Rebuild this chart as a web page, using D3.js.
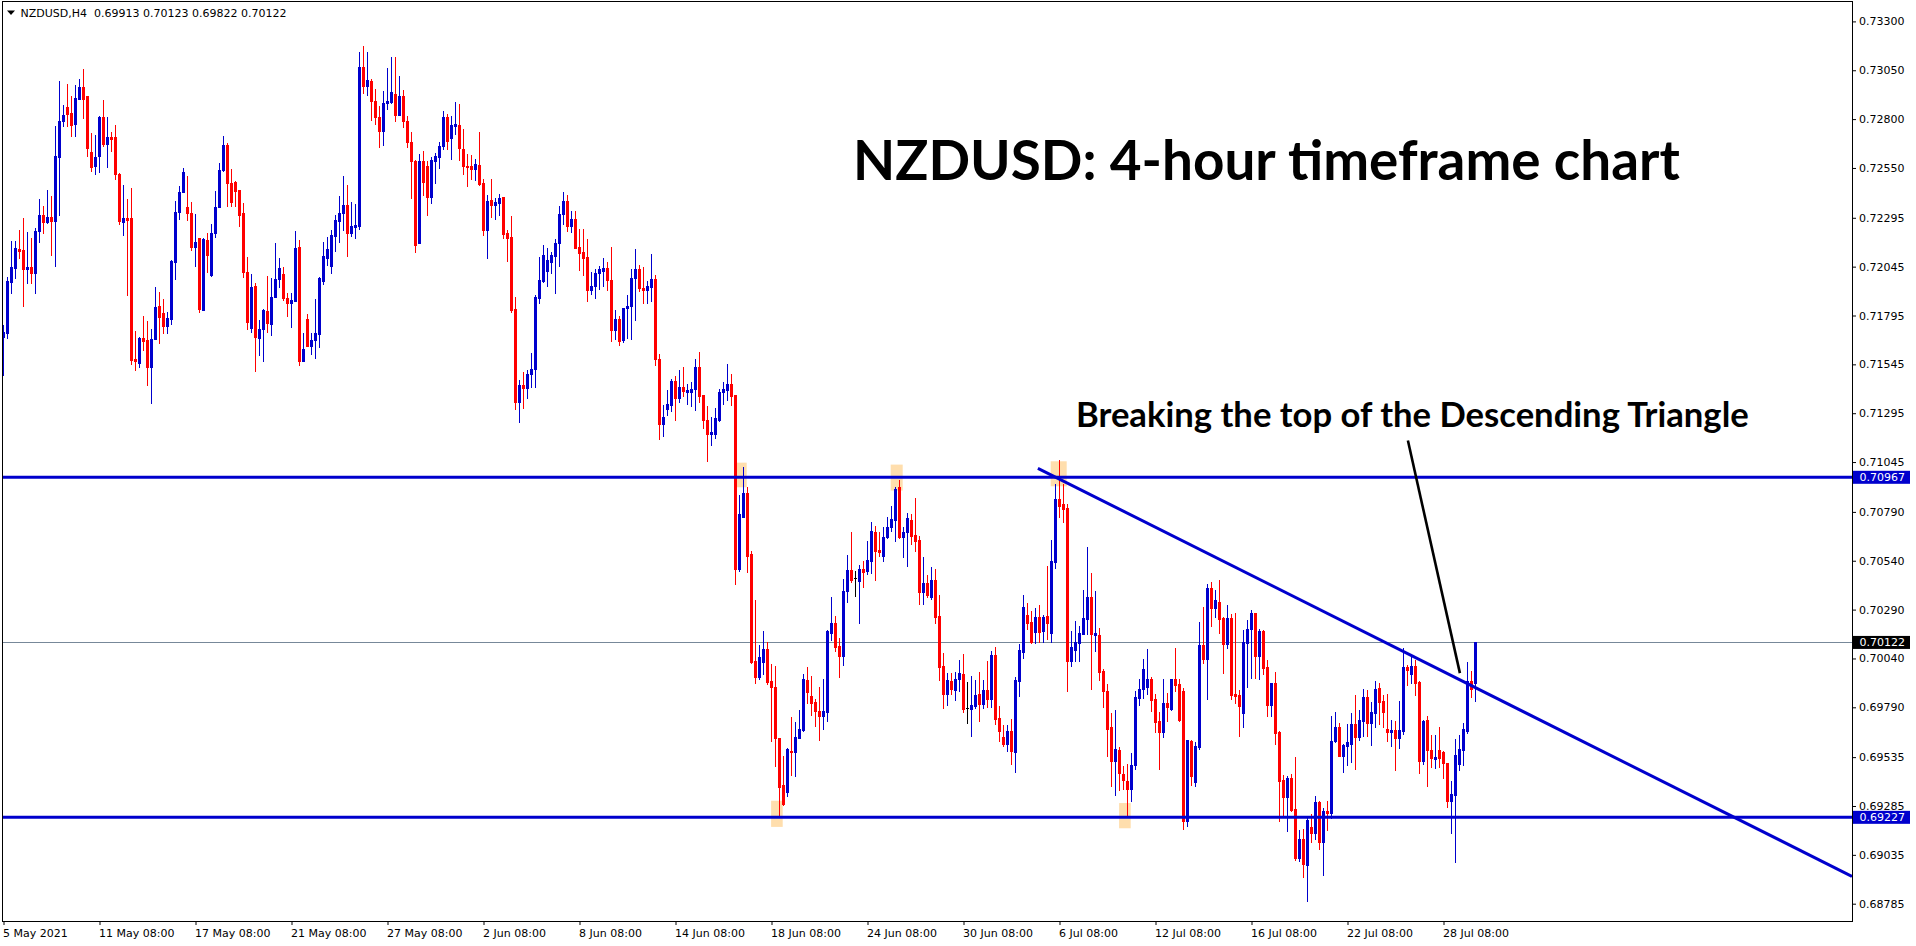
<!DOCTYPE html>
<html><head><meta charset="utf-8">
<script src="https://cdn.jsdelivr.net/npm/d3@7"></script>
<style>
html,body{margin:0;padding:0;background:#fff;overflow:hidden}
svg{display:block}
</style></head><body>
<svg id="chart" width="1916" height="946"></svg>
<script>
// ---------------- DATA ----------------
const symbolLabel = "NZDUSD,H4";
const headerValues = ["0.69913", "0.70123", "0.69822", "0.70122"];
const titleText = "NZDUSD: 4-hour timeframe chart";
const annotationText = "Breaking the top of the Descending Triangle";

// H4 candles, prices in points (1 point = 0.00001)
const opens = [
71686,71706,71968,72040,72136,72131,72031,72045,72011,72225,
72310,72276,72298,72281,72604,72789,72862,72832,72777,72905,
72965,72917,72632,72558,72609,72809,72674,72707,72707,72519,
72276,72293,72293,71571,71553,71682,71669,71532,71677,71843,
71806,71741,71777,72071,72324,72425,72349,72322,72148,72190,
71823,72182,72002,72219,72349,72538,72666,72472,72476,72438,
72319,72019,71729,71948,71682,71724,71818,71754,71891,71982,
72007,71886,71857,71869,72144,71563,71775,71640,71672,71699,
71973,72088,72050,72204,72281,72319,72361,72216,72250,72254,
73068,72968,72997,72895,72811,72737,72883,72886,72931,72823,
72917,72792,72683,72587,72165,72587,72561,72399,72587,72604,
72661,72809,72703,72763,72772,72648,72561,72558,72546,72566,
72472,72233,72387,72361,72373,72399,72216,72195,71826,71352,
71438,71424,71498,71523,71886,71973,72024,72071,72100,72165,
72313,72382,72254,72289,72144,72122,72093,71925,71946,72014,
72024,72040,71976,71720,71779,71669,71831,71842,71986,72031,
71935,71924,71942,71980,71571,71238,71316,71336,71460,71372,
71431,71405,71405,71420,71531,71387,71261,71187,71187,71261,
71405,71416,71447,71387,70500,70766,70888,70573,70029,69945,
70022,70089,69927,69894,69634,69390,69357,69568,69561,69634,
69674,69932,69849,69816,69770,69745,69767,70172,70223,70104,
70052,70383,70494,70451,70434,70497,70489,70540,70689,70596,
70565,70660,70711,70750,70916,70663,70688,70750,70673,70647,
70382,70425,70352,70441,70258,70001,69859,69924,69881,69936,
69958,69784,69782,69799,69856,69808,69878,69834,70058,69736,
69637,69600,69668,69560,69924,70075,70263,70227,70177,70252,
70181,70258,70172,70536,70856,70830,70808,70027,70083,70121,
70167,70244,70355,70160,70160,69976,69876,69688,69517,69574,
69448,69415,69372,69497,69838,69885,69895,69936,69830,69719,
69664,69813,69779,69936,69907,69876,69209,69617,69406,69587,
70109,70035,70398,70300,70330,70249,70112,70246,69856,69851,
69762,70121,70189,70271,70052,70181,69996,69804,69912,69663,
69420,69329,69428,69271,69021,69115,68983,69175,69149,69303,
69099,69261,69248,69616,69688,69539,69593,69602,69705,69636,
69718,69842,69710,69761,69889,69821,69681,69664,69672,69633,
69671,69995,69961,70000,69918,69513,69724,69573,69525,69573,
69561,69505,69308,69342,69501,69573,69667,69927,69913];
const highs = [
71746,71994,72177,72177,72233,72293,72221,72194,72245,72390,
72353,72438,72408,72763,72997,72874,72982,72917,72977,73006,
73054,72920,72729,72720,72815,72900,72811,72732,72772,72524,
72464,72390,72447,71715,71686,71792,71768,71724,71942,71917,
71879,71814,72079,72382,72459,72549,72510,72378,72315,72190,
72190,72216,72264,72430,72575,72712,72678,72544,72481,72438,
72370,72096,72007,71963,71771,71826,71997,71985,72165,72088,
72045,71908,71912,72225,72182,71708,71802,71703,71879,71994,
72170,72199,72233,72310,72409,72507,72464,72375,72366,73144,
73173,73144,73006,72955,72866,72946,73059,73117,73117,73020,
72951,72818,72734,72592,72621,72638,72587,72604,72626,72683,
72840,72826,72814,72886,72879,72749,72621,72618,72597,72732,
72493,72413,72495,72396,72418,72399,72233,72305,71888,71463,
71506,71515,71604,71900,72093,72156,72142,72122,72187,72353,
72426,72413,72330,72330,72238,72238,72187,72016,72033,72050,
72088,72071,72144,71823,71793,71835,71902,72035,72135,72053,
72042,71969,72108,72002,71598,71338,71416,71469,71487,71516,
71531,71447,71454,71571,71609,71387,71332,71276,71321,71420,
71454,71549,71498,71387,70877,71021,70915,70588,70340,70111,
70182,70122,70011,70000,69634,69541,69583,69738,69716,69778,
69960,69994,69951,69834,69893,69936,70184,70357,70258,70143,
70449,70571,70689,70488,70519,70540,70642,70736,70719,70689,
70711,70766,70822,70916,70954,70714,70783,70779,70861,70668,
70560,70468,70509,70500,70365,70066,69964,69964,69970,70032,
70064,69919,69950,69928,69970,69928,70027,70078,70099,69796,
69698,69698,69731,69945,70112,70365,70326,70284,70297,70314,
70263,70514,70648,70933,71053,70933,70830,70181,70232,70206,
70391,70612,70477,70386,70194,69988,69907,69762,69775,69586,
69488,69500,69557,69873,69933,70035,70090,69947,69859,69765,
69933,69864,69936,70095,69933,69890,69622,69625,69613,70229,
70304,70420,70429,70391,70442,70253,70314,70270,70275,69881,
70184,70237,70288,70275,70189,70184,70032,69916,69972,69668,
69445,69437,69451,69534,69163,69166,69226,69243,69334,69313,
69277,69313,69744,69766,69710,69602,69706,69761,69855,69775,
69884,69881,69816,69924,69915,69855,69859,69724,69722,69821,
70095,70009,70052,70030,69923,69727,69744,69650,69650,69688,
69568,69505,69411,69629,69650,69710,70023,69978,70123];
const lows = [
71489,71682,71908,71985,72091,71845,71963,71963,71912,72173,
72216,72267,72105,72050,72310,72763,72767,72712,72715,72905,
72806,72609,72536,72519,72527,72661,72553,72635,72493,72262,
72207,71900,71549,71515,71532,71617,71441,71349,71677,71652,
71703,71706,71754,71980,72288,72425,72284,72130,72050,71814,
71823,72019,71997,72199,72349,72532,72353,72353,72353,72254,
71994,71724,71713,71511,71595,71563,71712,71694,71891,71942,
71874,71792,71737,71869,71544,71561,71638,71600,71578,71634,
71956,72053,72014,72127,72173,72233,72101,72204,72190,72238,
72934,72922,72794,72777,72655,72669,72854,72883,72789,72819,
72758,72657,72395,72122,72165,72413,72310,72373,72472,72549,
72649,72649,72597,72725,72592,72520,72460,72495,72486,72464,
72207,72088,72301,72289,72310,72190,72074,71814,71318,71250,
71322,71373,71429,71429,71860,71968,71946,72014,71912,72048,
72262,72228,72224,72139,72028,72002,71870,71905,71886,71929,
71946,71925,71665,71677,71643,71660,71680,71676,71771,71920,
71860,71860,71871,71542,71161,71176,71287,71305,71258,71354,
71383,71343,71332,71310,71354,71221,71050,71132,71170,71254,
71343,71365,71336,70422,70489,70766,70484,70018,69916,69934,
69963,69911,69616,69490,69230,69290,69335,69446,69441,69634,
69667,69812,69750,69696,69622,69680,69719,70135,70078,69945,
70006,70329,70432,70360,70223,70406,70472,70475,70442,70565,
70540,70656,70694,70639,70654,70557,70514,70625,70588,70321,
70321,70357,70343,70223,69929,69787,69801,69856,69827,69876,
69767,69710,69645,69784,69722,69784,69791,69791,69705,69620,
69591,69565,69500,69457,69847,70041,70189,70121,70121,70126,
70126,70138,70126,70501,70762,70736,69876,70001,70027,70027,
70164,70164,69885,70078,69929,69793,69543,69386,69343,69365,
69372,69227,69309,69474,69804,69838,69856,69770,69664,69474,
69637,69719,69774,69873,69719,69168,69181,69394,69386,69577,
70018,69830,70206,70253,70169,69964,70092,69835,69813,69645,
69688,69895,69941,69941,69936,69958,69748,69745,69603,69206,
69240,69155,69257,69009,69001,68920,68800,69099,69116,69063,
68932,69163,69226,69612,69539,69458,69496,69510,69474,69621,
69641,69641,69595,69689,69706,69689,69616,69590,69470,69582,
69655,69906,69915,69852,69453,69501,69388,69484,69479,69484,
69428,69278,69149,69000,69470,69493,69659,69843,69822];
const closes = [
71712,71971,72045,72139,72127,72031,72045,72011,72228,72310,
72276,72298,72281,72609,72792,72823,72828,72772,72909,72965,
72905,72652,72553,72606,72811,72674,72707,72698,72519,72279,
72293,72284,71566,71563,71682,71665,71532,71677,71836,71788,
71742,71780,72074,72324,72425,72529,72319,72148,72170,71828,
72187,72105,72216,72349,72541,72666,72472,72378,72430,72310,
72019,71763,71942,71686,71724,71823,71758,71891,71982,72036,
71883,71857,71874,72142,71563,71626,71640,71672,71703,71985,
72101,72136,72207,72284,72322,72361,72216,72254,72259,73066,
72968,73002,72891,72809,72737,72883,72891,72938,72823,72917,
72789,72681,72584,72156,72587,72476,72399,72592,72609,72664,
72809,72686,72772,72777,72652,72558,72553,72546,72572,72469,
72233,72382,72361,72375,72396,72212,72190,71823,71352,71438,
71426,71498,71523,71891,71976,72105,72079,72105,72168,72315,
72382,72254,72289,72142,72117,72091,71925,71946,72014,72031,
72040,71976,71720,71776,71665,71831,71842,71986,72031,71935,
71926,71946,71980,71571,71238,71276,71343,71460,71372,71431,
71409,71414,71420,71531,71383,71258,71187,71198,71272,71405,
71420,71447,71383,70500,70777,70888,70566,70022,69945,70049,
70089,69918,69894,69634,69383,69297,69579,69561,69639,69678,
69934,69867,69812,69772,69745,69770,70181,70223,70100,70052,
70386,70494,70441,70451,70497,70483,70543,70694,70591,70583,
70663,70714,70754,70907,70663,70688,70757,70668,70639,70382,
70425,70365,70441,70253,69998,69859,69929,69885,69936,69964,
69782,69784,69801,69852,69808,69878,69834,70058,69731,69668,
69603,69668,69565,69929,70083,70304,70223,70126,70252,70177,
70252,70223,70540,70856,70822,70805,70027,70099,70126,70169,
70246,70355,70164,70169,69972,69876,69681,69517,69577,69454,
69420,69372,69497,69842,69885,69984,69933,69827,69716,69664,
69813,69791,69936,69902,69724,69209,69622,69440,69591,70109,
70035,70403,70300,70340,70241,70112,70246,69852,69847,69799,
70126,70189,70271,70052,70181,69993,69804,69912,69659,69415,
69329,69428,69266,69021,69115,68987,69214,69149,69303,69099,
69257,69248,69616,69688,69539,69595,69612,69705,69636,69724,
69842,69710,69765,69884,69818,69766,69664,69672,69633,69676,
69995,69980,70000,69915,69517,69722,69570,69530,69534,69530,
69505,69308,69347,69544,69578,69681,69927,69886,70122];

const priceTicks = [0.73300,0.73050,0.72800,0.72550,0.72295,0.72045,0.71795,0.71545,0.71295,
  0.71045,0.70790,0.70540,0.70290,0.70040,0.69790,0.69535,0.69285,0.69035,0.68785];
const timeTickLabels = ["5 May 2021","11 May 08:00","17 May 08:00","21 May 08:00","27 May 08:00",
  "2 Jun 08:00","8 Jun 08:00","14 Jun 08:00","18 Jun 08:00","24 Jun 08:00","30 Jun 08:00",
  "6 Jul 08:00","12 Jul 08:00","16 Jul 08:00","22 Jul 08:00","28 Jul 08:00"];
const timeTickBars = [0,24,48,72,96,120,144,168,192,216,240,264,288,312,336,360];

const resistanceLevel = 0.70967;
const supportLevel = 0.69227;
const lastPrice = 0.70122;
const trendlinePoints = [{bar: 258.6, price: 0.71013}, {bar: 462.1, price: 0.68925}];
const pointerPoints = [{bar: 351.1, price: 0.71155}, {bar: 364.1, price: 0.69965}];
const touchZones = [
  {from: 183.3, to: 185.8, lo: 0.70916, hi: 0.71042},
  {from: 191.9, to: 194.8, lo: 0.69178, hi: 0.69312},
  {from: 221.8, to: 224.8, lo: 0.70899, hi: 0.71032},
  {from: 261.8, to: 265.8, lo: 0.70921, hi: 0.71049},
  {from: 278.9, to: 281.8, lo: 0.69171, hi: 0.69300}
];

// ---------------- DRAW ----------------
const W = 1916, H = 946;
const plot = {left: 2.5, top: 1.5, right: 1852.5, bottom: 921.5};
const UP = "#0000CD", DOWN = "#FF0000", FLAT = "#000000";
const axisFont = "'DejaVu Sans', Tahoma, sans-serif";

const svg = d3.select("#chart");
svg.append("rect").attr("width", W).attr("height", H).attr("fill", "#fff");

const x = d3.scaleLinear().domain([0, 368]).range([3.5, 1475.5]);
const y = d3.scaleLinear().domain([0.68785, 0.73300]).range([903.7, 21.4]);

const bars = opens.map((o, i) => ({
  i, o: o / 1e5, h: highs[i] / 1e5, l: lows[i] / 1e5, c: closes[i] / 1e5
}));

svg.append("defs").append("clipPath").attr("id", "plotclip")
  .append("rect").attr("x", 3).attr("y", 2).attr("width", 1849).attr("height", 919);

const g = svg.append("g").attr("clip-path", "url(#plotclip)");

// highlight zones (background)
g.selectAll("rect.zone").data(touchZones).join("rect")
  .attr("class", "zone")
  .attr("x", d => x(d.from)).attr("width", d => x(d.to) - x(d.from))
  .attr("y", d => y(d.hi)).attr("height", d => y(d.lo) - y(d.hi))
  .attr("fill", "#FFDEAD");

// last price line
g.append("line")
  .attr("x1", plot.left).attr("x2", plot.right)
  .attr("y1", Math.round(y(lastPrice)) + 0.5).attr("y2", Math.round(y(lastPrice)) + 0.5)
  .attr("stroke", "#778899").attr("stroke-width", 1);

const col = d => d.c > d.o ? UP : (d.c < d.o ? DOWN : FLAT);

// wicks
g.selectAll("rect.wick").data(bars).join("rect")
  .attr("class", "wick")
  .attr("x", d => x(d.i) - 0.5).attr("width", 1)
  .attr("y", d => Math.round(y(Math.max(d.h, d.o, d.c))))
  .attr("height", d => Math.max(1, Math.round(y(Math.min(d.l, d.o, d.c))) - Math.round(y(Math.max(d.h, d.o, d.c))) + 1))
  .attr("fill", col).attr("shape-rendering", "crispEdges");

// bodies
g.selectAll("rect.body").data(bars).join("rect")
  .attr("class", "body")
  .attr("x", d => x(d.i) - 1.5).attr("width", 3)
  .attr("y", d => Math.round(y(Math.max(d.o, d.c))))
  .attr("height", d => Math.max(1, Math.round(y(Math.min(d.o, d.c))) - Math.round(y(Math.max(d.o, d.c))) + 1))
  .attr("fill", col).attr("shape-rendering", "crispEdges");

// horizontal levels
[resistanceLevel, supportLevel].forEach(v => {
  g.append("line")
    .attr("x1", plot.left).attr("x2", plot.right)
    .attr("y1", y(v)).attr("y2", y(v))
    .attr("stroke", UP).attr("stroke-width", 3);
});

// trendline
g.append("line")
  .attr("x1", x(trendlinePoints[0].bar)).attr("y1", y(trendlinePoints[0].price))
  .attr("x2", x(trendlinePoints[1].bar)).attr("y2", y(trendlinePoints[1].price))
  .attr("stroke", UP).attr("stroke-width", 3);

// pointer line
g.append("line")
  .attr("x1", x(pointerPoints[0].bar)).attr("y1", y(pointerPoints[0].price))
  .attr("x2", x(pointerPoints[1].bar)).attr("y2", y(pointerPoints[1].price))
  .attr("stroke", "#000").attr("stroke-width", 2.6);

// frame
svg.append("rect")
  .attr("x", plot.left).attr("y", plot.top)
  .attr("width", plot.right - plot.left).attr("height", plot.bottom - plot.top)
  .attr("fill", "none").attr("stroke", "#000").attr("stroke-width", 1);

// price axis
const yAxis = d3.axisRight(y).tickValues(priceTicks).tickFormat(d3.format(".5f")).tickSize(4).tickPadding(3);
const ya = svg.append("g").attr("transform", `translate(${plot.right - 0.5},0)`).call(yAxis);
ya.select(".domain").remove();
ya.selectAll("text").attr("font-family", axisFont).attr("font-size", 11).attr("fill", "#000");
ya.selectAll("line").attr("stroke", "#000");

// time axis
const xAxis = d3.axisBottom(x).tickValues(timeTickBars)
  .tickFormat((d, i) => timeTickLabels[i]).tickSize(4).tickPadding(4);
const xa = svg.append("g").attr("transform", `translate(0,${plot.bottom - 0.5})`).call(xAxis);
xa.select(".domain").remove();
xa.selectAll("text").attr("font-family", axisFont).attr("font-size", 11).attr("fill", "#000")
  .attr("text-anchor", "start").attr("x", -1);
xa.selectAll("line").attr("stroke", "#000");

// price label boxes
const tags = [
  {v: resistanceLevel, fill: UP},
  {v: lastPrice, fill: "#000"},
  {v: supportLevel, fill: UP}
];
tags.forEach(t => {
  const yy = y(t.v);
  svg.append("rect").attr("x", 1853).attr("y", yy - 6.5).attr("width", 57).attr("height", 13).attr("fill", t.fill);
  svg.append("text").attr("x", 1859.5).attr("y", yy + 4)
    .attr("font-family", axisFont).attr("font-size", 11).attr("fill", "#fff")
    .text(d3.format(".5f")(t.v));
});

// header
svg.append("path").attr("d", "M7,10.5 L15,10.5 L11,15 Z").attr("fill", "#000");
svg.append("text").attr("x", 20.5).attr("y", 16.5)
  .attr("font-family", axisFont).attr("font-size", 11).attr("fill", "#000").text(symbolLabel);
svg.append("text").attr("x", 94).attr("y", 16.5)
  .attr("font-family", axisFont).attr("font-size", 11).attr("fill", "#000")
  .attr("xml:space", "preserve").text(headerValues.join(" "));

// title & annotation
function fitText(sel, width) {
  const w = sel.node().getComputedTextLength();
  const fs = parseFloat(sel.attr("font-size"));
  if (w > 0) sel.attr("font-size", fs * width / w);
}
const title = svg.append("text").attr("x", 853).attr("y", 179.5)
  .attr("font-family", "Lato, 'Open Sans', sans-serif").attr("font-weight", 700)
  .attr("font-size", 52).attr("fill", "#000").text(titleText);
fitText(title, 827);
const ann = svg.append("text").attr("x", 1076).attr("y", 426.5)
  .attr("font-family", "Lato, 'Open Sans', sans-serif").attr("font-weight", 700)
  .attr("font-size", 33).attr("fill", "#000").text(annotationText);
fitText(ann, 673);
</script>
</body></html>
